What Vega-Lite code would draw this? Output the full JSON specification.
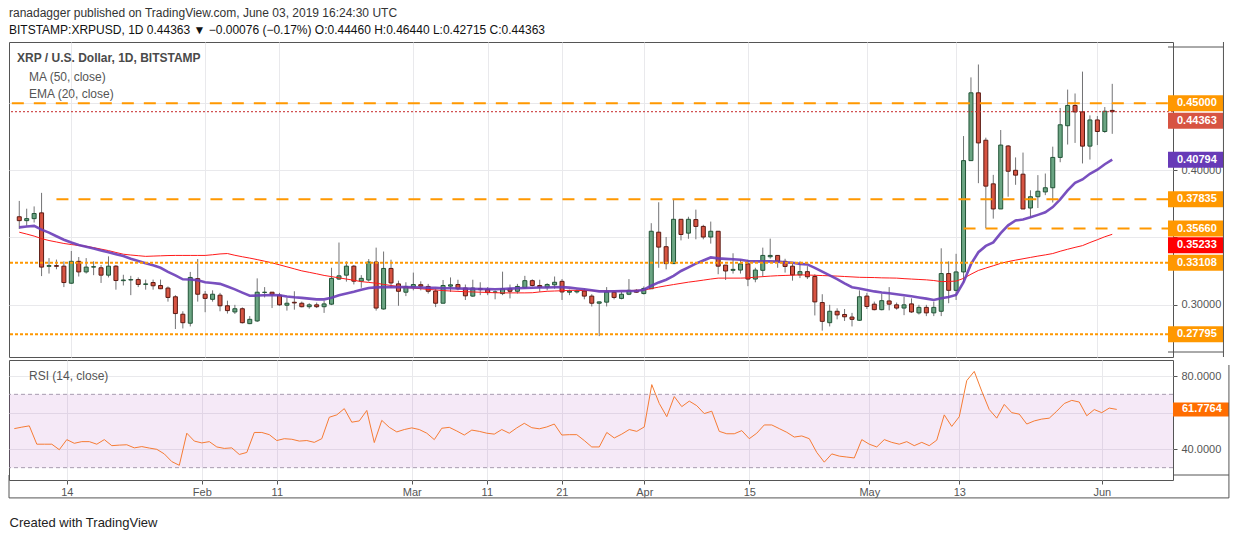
{
  "$schema": "https://vega.github.io/schema/vega-lite/v6.json",
  "background": "white",
  "padding": {"left": 7, "top": 7, "right": 7, "bottom": 4},
  "config": {
    "font": "Liberation Sans",
    "view": {"stroke": "#555555", "strokeWidth": 1},
    "axis": {"gridColor": "#e9e9ec", "domain": false, "labelColor": "#555555", "labelFontSize": 11, "tickColor": "#555555"}
  },
  "title": {
    "text": "ranadagger published on TradingView.com, June 03, 2019 16:24:30 UTC",
    "subtitle": "BITSTAMP:XRPUSD, 1D  0.44363 \u25bc \u22120.00076 (\u22120.17%)  O:0.44460  H:0.46440  L:0.42715  C:0.44363",
    "anchor": "start",
    "frame": "group",
    "fontSize": 12,
    "fontWeight": "normal",
    "color": "#333333",
    "subtitleFontSize": 12,
    "subtitleColor": "#111111",
    "subtitlePadding": 5,
    "offset": 4
  },
  "resolve": {"scale": {"color": "independent"}},
  "spacing": 1,
  "datasets": {
    "candles": [
      {"date": "2019-01-07", "open": 0.3654, "high": 0.3772, "low": 0.3563, "close": 0.3625, "ma50": 0.3539, "ema20": 0.3575, "rsi": 51.3},
      {"date": "2019-01-08", "open": 0.3625, "high": 0.3714, "low": 0.3587, "close": 0.3640, "ma50": 0.3525, "ema20": 0.3581, "rsi": 52.1},
      {"date": "2019-01-09", "open": 0.3640, "high": 0.3731, "low": 0.3611, "close": 0.3678, "ma50": 0.3510, "ema20": 0.3586, "rsi": 52.8},
      {"date": "2019-01-10", "open": 0.3683, "high": 0.3832, "low": 0.3212, "close": 0.3279, "ma50": 0.3491, "ema20": 0.3558, "rsi": 42.8},
      {"date": "2019-01-11", "open": 0.3285, "high": 0.3346, "low": 0.3231, "close": 0.3290, "ma50": 0.3477, "ema20": 0.3536, "rsi": 42.8},
      {"date": "2019-01-12", "open": 0.3290, "high": 0.3335, "low": 0.3263, "close": 0.3285, "ma50": 0.3466, "ema20": 0.3509, "rsi": 42.8},
      {"date": "2019-01-13", "open": 0.3286, "high": 0.3322, "low": 0.3130, "close": 0.3164, "ma50": 0.3455, "ema20": 0.3483, "rsi": 39.8},
      {"date": "2019-01-14", "open": 0.3159, "high": 0.3399, "low": 0.3154, "close": 0.3322, "ma50": 0.3447, "ema20": 0.3462, "rsi": 45.3},
      {"date": "2019-01-15", "open": 0.3322, "high": 0.3354, "low": 0.3209, "close": 0.3243, "ma50": 0.3440, "ema20": 0.3443, "rsi": 43.3},
      {"date": "2019-01-16", "open": 0.3243, "high": 0.3346, "low": 0.3231, "close": 0.3279, "ma50": 0.3434, "ema20": 0.3431, "rsi": 44.2},
      {"date": "2019-01-17", "open": 0.3279, "high": 0.3322, "low": 0.3219, "close": 0.3282, "ma50": 0.3424, "ema20": 0.3417, "rsi": 44.2},
      {"date": "2019-01-18", "open": 0.3274, "high": 0.3294, "low": 0.3161, "close": 0.3219, "ma50": 0.3413, "ema20": 0.3403, "rsi": 42.8},
      {"date": "2019-01-19", "open": 0.3219, "high": 0.3359, "low": 0.3202, "close": 0.3286, "ma50": 0.3402, "ema20": 0.3390, "rsi": 45.3},
      {"date": "2019-01-20", "open": 0.3286, "high": 0.3294, "low": 0.3111, "close": 0.3179, "ma50": 0.3388, "ema20": 0.3375, "rsi": 42.0},
      {"date": "2019-01-21", "open": 0.3178, "high": 0.3222, "low": 0.3142, "close": 0.3183, "ma50": 0.3375, "ema20": 0.3361, "rsi": 42.3},
      {"date": "2019-01-22", "open": 0.3183, "high": 0.3214, "low": 0.3070, "close": 0.3186, "ma50": 0.3369, "ema20": 0.3342, "rsi": 42.5},
      {"date": "2019-01-23", "open": 0.3186, "high": 0.3202, "low": 0.3130, "close": 0.3150, "ma50": 0.3364, "ema20": 0.3325, "rsi": 40.8},
      {"date": "2019-01-24", "open": 0.3150, "high": 0.3186, "low": 0.3111, "close": 0.3154, "ma50": 0.3359, "ema20": 0.3308, "rsi": 41.5},
      {"date": "2019-01-25", "open": 0.3164, "high": 0.3186, "low": 0.3111, "close": 0.3140, "ma50": 0.3361, "ema20": 0.3292, "rsi": 40.7},
      {"date": "2019-01-26", "open": 0.3142, "high": 0.3186, "low": 0.3115, "close": 0.3118, "ma50": 0.3363, "ema20": 0.3274, "rsi": 40.0},
      {"date": "2019-01-27", "open": 0.3123, "high": 0.3135, "low": 0.3022, "close": 0.3053, "ma50": 0.3365, "ema20": 0.3244, "rsi": 37.5},
      {"date": "2019-01-28", "open": 0.3058, "high": 0.3070, "low": 0.2818, "close": 0.2933, "ma50": 0.3366, "ema20": 0.3217, "rsi": 33.3},
      {"date": "2019-01-29", "open": 0.2928, "high": 0.2950, "low": 0.2822, "close": 0.2865, "ma50": 0.3366, "ema20": 0.3188, "rsi": 31.3},
      {"date": "2019-01-30", "open": 0.2861, "high": 0.3243, "low": 0.2837, "close": 0.3202, "ma50": 0.3366, "ema20": 0.3187, "rsi": 48.8},
      {"date": "2019-01-31", "open": 0.3193, "high": 0.3339, "low": 0.3022, "close": 0.3077, "ma50": 0.3366, "ema20": 0.3181, "rsi": 44.5},
      {"date": "2019-02-01", "open": 0.3077, "high": 0.3101, "low": 0.2943, "close": 0.3046, "ma50": 0.3366, "ema20": 0.3166, "rsi": 43.5},
      {"date": "2019-02-02", "open": 0.3039, "high": 0.3106, "low": 0.3022, "close": 0.3077, "ma50": 0.3371, "ema20": 0.3160, "rsi": 44.2},
      {"date": "2019-02-03", "open": 0.3070, "high": 0.3087, "low": 0.2950, "close": 0.2991, "ma50": 0.3377, "ema20": 0.3154, "rsi": 41.3},
      {"date": "2019-02-04", "open": 0.2991, "high": 0.3029, "low": 0.2933, "close": 0.2955, "ma50": 0.3380, "ema20": 0.3134, "rsi": 40.5},
      {"date": "2019-02-05", "open": 0.2945, "high": 0.2998, "low": 0.2930, "close": 0.2969, "ma50": 0.3367, "ema20": 0.3113, "rsi": 40.8},
      {"date": "2019-02-06", "open": 0.2969, "high": 0.2979, "low": 0.2859, "close": 0.2865, "ma50": 0.3356, "ema20": 0.3089, "rsi": 37.2},
      {"date": "2019-02-07", "open": 0.2858, "high": 0.2914, "low": 0.2854, "close": 0.2890, "ma50": 0.3346, "ema20": 0.3066, "rsi": 38.3},
      {"date": "2019-02-08", "open": 0.2878, "high": 0.3195, "low": 0.2870, "close": 0.3092, "ma50": 0.3335, "ema20": 0.3067, "rsi": 49.2},
      {"date": "2019-02-09", "open": 0.3090, "high": 0.3130, "low": 0.3053, "close": 0.3092, "ma50": 0.3323, "ema20": 0.3069, "rsi": 49.2},
      {"date": "2019-02-10", "open": 0.3092, "high": 0.3094, "low": 0.2974, "close": 0.3077, "ma50": 0.3311, "ema20": 0.3070, "rsi": 48.0},
      {"date": "2019-02-11", "open": 0.3070, "high": 0.3087, "low": 0.2991, "close": 0.2998, "ma50": 0.3296, "ema20": 0.3069, "rsi": 44.8},
      {"date": "2019-02-12", "open": 0.2995, "high": 0.3051, "low": 0.2955, "close": 0.3010, "ma50": 0.3281, "ema20": 0.3060, "rsi": 45.8},
      {"date": "2019-02-13", "open": 0.3017, "high": 0.3099, "low": 0.2962, "close": 0.3012, "ma50": 0.3266, "ema20": 0.3054, "rsi": 45.5},
      {"date": "2019-02-14", "open": 0.3010, "high": 0.3022, "low": 0.2979, "close": 0.2984, "ma50": 0.3251, "ema20": 0.3050, "rsi": 44.5},
      {"date": "2019-02-15", "open": 0.2984, "high": 0.3010, "low": 0.2969, "close": 0.2998, "ma50": 0.3240, "ema20": 0.3044, "rsi": 44.8},
      {"date": "2019-02-16", "open": 0.2998, "high": 0.3015, "low": 0.2974, "close": 0.2984, "ma50": 0.3229, "ema20": 0.3039, "rsi": 43.8},
      {"date": "2019-02-17", "open": 0.2984, "high": 0.3029, "low": 0.2938, "close": 0.3005, "ma50": 0.3217, "ema20": 0.3039, "rsi": 45.8},
      {"date": "2019-02-18", "open": 0.3003, "high": 0.3274, "low": 0.2996, "close": 0.3195, "ma50": 0.3208, "ema20": 0.3051, "rsi": 57.5},
      {"date": "2019-02-19", "open": 0.3190, "high": 0.3462, "low": 0.3183, "close": 0.3214, "ma50": 0.3199, "ema20": 0.3070, "rsi": 58.8},
      {"date": "2019-02-20", "open": 0.3219, "high": 0.3322, "low": 0.3171, "close": 0.3286, "ma50": 0.3190, "ema20": 0.3083, "rsi": 62.2},
      {"date": "2019-02-21", "open": 0.3286, "high": 0.3294, "low": 0.3150, "close": 0.3174, "ma50": 0.3181, "ema20": 0.3095, "rsi": 54.8},
      {"date": "2019-02-22", "open": 0.3174, "high": 0.3219, "low": 0.3125, "close": 0.3195, "ma50": 0.3171, "ema20": 0.3110, "rsi": 55.5},
      {"date": "2019-02-23", "open": 0.3183, "high": 0.3339, "low": 0.3171, "close": 0.3317, "ma50": 0.3165, "ema20": 0.3124, "rsi": 61.2},
      {"date": "2019-02-24", "open": 0.3317, "high": 0.3424, "low": 0.2955, "close": 0.2974, "ma50": 0.3159, "ema20": 0.3128, "rsi": 43.7},
      {"date": "2019-02-25", "open": 0.2967, "high": 0.3395, "low": 0.2962, "close": 0.3269, "ma50": 0.3150, "ema20": 0.3130, "rsi": 55.8},
      {"date": "2019-02-26", "open": 0.3269, "high": 0.3334, "low": 0.3123, "close": 0.3161, "ma50": 0.3142, "ema20": 0.3130, "rsi": 52.0},
      {"date": "2019-02-27", "open": 0.3154, "high": 0.3178, "low": 0.2991, "close": 0.3099, "ma50": 0.3134, "ema20": 0.3130, "rsi": 49.5},
      {"date": "2019-02-28", "open": 0.3092, "high": 0.3166, "low": 0.3063, "close": 0.3135, "ma50": 0.3127, "ema20": 0.3130, "rsi": 50.8},
      {"date": "2019-03-01", "open": 0.3132, "high": 0.3238, "low": 0.3106, "close": 0.3149, "ma50": 0.3123, "ema20": 0.3128, "rsi": 51.7},
      {"date": "2019-03-02", "open": 0.3148, "high": 0.3173, "low": 0.3106, "close": 0.3137, "ma50": 0.3118, "ema20": 0.3127, "rsi": 50.8},
      {"date": "2019-03-03", "open": 0.3135, "high": 0.3154, "low": 0.3082, "close": 0.3099, "ma50": 0.3113, "ema20": 0.3125, "rsi": 48.8},
      {"date": "2019-03-04", "open": 0.3101, "high": 0.3118, "low": 0.2981, "close": 0.3010, "ma50": 0.3109, "ema20": 0.3124, "rsi": 45.3},
      {"date": "2019-03-05", "open": 0.3010, "high": 0.3183, "low": 0.3010, "close": 0.3142, "ma50": 0.3104, "ema20": 0.3122, "rsi": 51.5},
      {"date": "2019-03-06", "open": 0.3137, "high": 0.3202, "low": 0.3094, "close": 0.3147, "ma50": 0.3101, "ema20": 0.3122, "rsi": 52.0},
      {"date": "2019-03-07", "open": 0.3149, "high": 0.3185, "low": 0.3106, "close": 0.3118, "ma50": 0.3098, "ema20": 0.3120, "rsi": 50.0},
      {"date": "2019-03-08", "open": 0.3123, "high": 0.3149, "low": 0.3034, "close": 0.3065, "ma50": 0.3096, "ema20": 0.3119, "rsi": 47.8},
      {"date": "2019-03-09", "open": 0.3063, "high": 0.3185, "low": 0.3058, "close": 0.3123, "ma50": 0.3094, "ema20": 0.3117, "rsi": 50.5},
      {"date": "2019-03-10", "open": 0.3120, "high": 0.3166, "low": 0.3070, "close": 0.3111, "ma50": 0.3092, "ema20": 0.3116, "rsi": 49.8},
      {"date": "2019-03-11", "open": 0.3113, "high": 0.3130, "low": 0.3070, "close": 0.3089, "ma50": 0.3090, "ema20": 0.3115, "rsi": 48.8},
      {"date": "2019-03-12", "open": 0.3092, "high": 0.3106, "low": 0.3039, "close": 0.3094, "ma50": 0.3088, "ema20": 0.3114, "rsi": 48.3},
      {"date": "2019-03-13", "open": 0.3082, "high": 0.3245, "low": 0.3070, "close": 0.3118, "ma50": 0.3087, "ema20": 0.3116, "rsi": 50.8},
      {"date": "2019-03-14", "open": 0.3118, "high": 0.3149, "low": 0.3046, "close": 0.3099, "ma50": 0.3087, "ema20": 0.3119, "rsi": 48.8},
      {"date": "2019-03-15", "open": 0.3099, "high": 0.3154, "low": 0.3082, "close": 0.3135, "ma50": 0.3087, "ema20": 0.3121, "rsi": 51.7},
      {"date": "2019-03-16", "open": 0.3125, "high": 0.3214, "low": 0.3118, "close": 0.3178, "ma50": 0.3087, "ema20": 0.3123, "rsi": 54.2},
      {"date": "2019-03-17", "open": 0.3178, "high": 0.3188, "low": 0.3135, "close": 0.3142, "ma50": 0.3088, "ema20": 0.3125, "rsi": 51.8},
      {"date": "2019-03-18", "open": 0.3142, "high": 0.3185, "low": 0.3094, "close": 0.3130, "ma50": 0.3094, "ema20": 0.3127, "rsi": 51.2},
      {"date": "2019-03-19", "open": 0.3130, "high": 0.3159, "low": 0.3106, "close": 0.3149, "ma50": 0.3099, "ema20": 0.3127, "rsi": 52.2},
      {"date": "2019-03-20", "open": 0.3147, "high": 0.3209, "low": 0.3118, "close": 0.3166, "ma50": 0.3101, "ema20": 0.3129, "rsi": 53.8},
      {"date": "2019-03-21", "open": 0.3173, "high": 0.3190, "low": 0.3034, "close": 0.3094, "ma50": 0.3103, "ema20": 0.3130, "rsi": 47.8},
      {"date": "2019-03-22", "open": 0.3092, "high": 0.3111, "low": 0.3070, "close": 0.3101, "ma50": 0.3106, "ema20": 0.3126, "rsi": 48.0},
      {"date": "2019-03-23", "open": 0.3094, "high": 0.3113, "low": 0.3082, "close": 0.3101, "ma50": 0.3106, "ema20": 0.3120, "rsi": 48.0},
      {"date": "2019-03-24", "open": 0.3101, "high": 0.3118, "low": 0.3039, "close": 0.3063, "ma50": 0.3104, "ema20": 0.3114, "rsi": 44.8},
      {"date": "2019-03-25", "open": 0.3063, "high": 0.3077, "low": 0.2986, "close": 0.3010, "ma50": 0.3103, "ema20": 0.3106, "rsi": 41.3},
      {"date": "2019-03-26", "open": 0.3010, "high": 0.3022, "low": 0.2765, "close": 0.3020, "ma50": 0.3102, "ema20": 0.3098, "rsi": 41.3},
      {"date": "2019-03-27", "open": 0.3018, "high": 0.3130, "low": 0.2986, "close": 0.3094, "ma50": 0.3101, "ema20": 0.3098, "rsi": 49.2},
      {"date": "2019-03-28", "open": 0.3092, "high": 0.3106, "low": 0.3039, "close": 0.3053, "ma50": 0.3101, "ema20": 0.3099, "rsi": 46.2},
      {"date": "2019-03-29", "open": 0.3046, "high": 0.3094, "low": 0.3039, "close": 0.3077, "ma50": 0.3102, "ema20": 0.3100, "rsi": 48.3},
      {"date": "2019-03-30", "open": 0.3077, "high": 0.3190, "low": 0.3070, "close": 0.3106, "ma50": 0.3104, "ema20": 0.3101, "rsi": 50.8},
      {"date": "2019-03-31", "open": 0.3106, "high": 0.3115, "low": 0.3087, "close": 0.3092, "ma50": 0.3106, "ema20": 0.3101, "rsi": 49.8},
      {"date": "2019-04-01", "open": 0.3082, "high": 0.3135, "low": 0.3075, "close": 0.3120, "ma50": 0.3107, "ema20": 0.3111, "rsi": 52.2},
      {"date": "2019-04-02", "open": 0.3118, "high": 0.3606, "low": 0.3118, "close": 0.3546, "ma50": 0.3119, "ema20": 0.3140, "rsi": 75.3},
      {"date": "2019-04-03", "open": 0.3539, "high": 0.3762, "low": 0.3274, "close": 0.3428, "ma50": 0.3130, "ema20": 0.3165, "rsi": 65.0},
      {"date": "2019-04-04", "open": 0.3431, "high": 0.3503, "low": 0.3262, "close": 0.3305, "ma50": 0.3140, "ema20": 0.3185, "rsi": 57.8},
      {"date": "2019-04-05", "open": 0.3305, "high": 0.3784, "low": 0.3305, "close": 0.3635, "ma50": 0.3149, "ema20": 0.3214, "rsi": 68.8},
      {"date": "2019-04-06", "open": 0.3635, "high": 0.3635, "low": 0.3478, "close": 0.3522, "ma50": 0.3158, "ema20": 0.3250, "rsi": 63.3},
      {"date": "2019-04-07", "open": 0.3532, "high": 0.3654, "low": 0.3490, "close": 0.3635, "ma50": 0.3167, "ema20": 0.3277, "rsi": 66.3},
      {"date": "2019-04-08", "open": 0.3633, "high": 0.3707, "low": 0.3486, "close": 0.3582, "ma50": 0.3174, "ema20": 0.3305, "rsi": 63.8},
      {"date": "2019-04-09", "open": 0.3582, "high": 0.3594, "low": 0.3486, "close": 0.3503, "ma50": 0.3182, "ema20": 0.3328, "rsi": 59.5},
      {"date": "2019-04-10", "open": 0.3503, "high": 0.3618, "low": 0.3454, "close": 0.3546, "ma50": 0.3190, "ema20": 0.3351, "rsi": 60.8},
      {"date": "2019-04-11", "open": 0.3546, "high": 0.3546, "low": 0.3226, "close": 0.3286, "ma50": 0.3197, "ema20": 0.3344, "rsi": 49.8},
      {"date": "2019-04-12", "open": 0.3294, "high": 0.3294, "low": 0.3183, "close": 0.3250, "ma50": 0.3197, "ema20": 0.3340, "rsi": 48.5},
      {"date": "2019-04-13", "open": 0.3255, "high": 0.3382, "low": 0.3231, "close": 0.3262, "ma50": 0.3197, "ema20": 0.3337, "rsi": 48.5},
      {"date": "2019-04-14", "open": 0.3257, "high": 0.3334, "low": 0.3231, "close": 0.3303, "ma50": 0.3197, "ema20": 0.3334, "rsi": 50.2},
      {"date": "2019-04-15", "open": 0.3303, "high": 0.3334, "low": 0.3137, "close": 0.3190, "ma50": 0.3199, "ema20": 0.3325, "rsi": 45.8},
      {"date": "2019-04-16", "open": 0.3190, "high": 0.3274, "low": 0.3166, "close": 0.3257, "ma50": 0.3204, "ema20": 0.3322, "rsi": 48.8},
      {"date": "2019-04-17", "open": 0.3255, "high": 0.3424, "low": 0.3207, "close": 0.3366, "ma50": 0.3208, "ema20": 0.3322, "rsi": 53.3},
      {"date": "2019-04-18", "open": 0.3356, "high": 0.3491, "low": 0.3342, "close": 0.3366, "ma50": 0.3212, "ema20": 0.3322, "rsi": 53.3},
      {"date": "2019-04-19", "open": 0.3366, "high": 0.3366, "low": 0.3274, "close": 0.3322, "ma50": 0.3215, "ema20": 0.3320, "rsi": 51.3},
      {"date": "2019-04-20", "open": 0.3322, "high": 0.3341, "low": 0.3238, "close": 0.3284, "ma50": 0.3217, "ema20": 0.3314, "rsi": 49.3},
      {"date": "2019-04-21", "open": 0.3286, "high": 0.3310, "low": 0.3178, "close": 0.3221, "ma50": 0.3219, "ema20": 0.3311, "rsi": 46.7},
      {"date": "2019-04-22", "open": 0.3221, "high": 0.3322, "low": 0.3197, "close": 0.3245, "ma50": 0.3221, "ema20": 0.3303, "rsi": 47.3},
      {"date": "2019-04-23", "open": 0.3245, "high": 0.3286, "low": 0.3190, "close": 0.3207, "ma50": 0.3220, "ema20": 0.3299, "rsi": 45.8},
      {"date": "2019-04-24", "open": 0.3209, "high": 0.3226, "low": 0.2919, "close": 0.3020, "ma50": 0.3218, "ema20": 0.3273, "rsi": 38.3},
      {"date": "2019-04-25", "open": 0.3015, "high": 0.3077, "low": 0.2806, "close": 0.2875, "ma50": 0.3216, "ema20": 0.3245, "rsi": 33.0},
      {"date": "2019-04-26", "open": 0.2865, "high": 0.2998, "low": 0.2837, "close": 0.2950, "ma50": 0.3214, "ema20": 0.3218, "rsi": 37.5},
      {"date": "2019-04-27", "open": 0.2950, "high": 0.2972, "low": 0.2890, "close": 0.2923, "ma50": 0.3212, "ema20": 0.3189, "rsi": 36.3},
      {"date": "2019-04-28", "open": 0.2926, "high": 0.2967, "low": 0.2878, "close": 0.2909, "ma50": 0.3209, "ema20": 0.3158, "rsi": 35.8},
      {"date": "2019-04-29", "open": 0.2907, "high": 0.2938, "low": 0.2837, "close": 0.2890, "ma50": 0.3206, "ema20": 0.3129, "rsi": 35.3},
      {"date": "2019-04-30", "open": 0.2883, "high": 0.3106, "low": 0.2878, "close": 0.3058, "ma50": 0.3203, "ema20": 0.3119, "rsi": 45.3},
      {"date": "2019-05-01", "open": 0.3063, "high": 0.3087, "low": 0.2967, "close": 0.2986, "ma50": 0.3202, "ema20": 0.3108, "rsi": 42.8},
      {"date": "2019-05-02", "open": 0.3003, "high": 0.3022, "low": 0.2957, "close": 0.2962, "ma50": 0.3201, "ema20": 0.3098, "rsi": 41.3},
      {"date": "2019-05-03", "open": 0.2962, "high": 0.3082, "low": 0.2957, "close": 0.3029, "ma50": 0.3199, "ema20": 0.3090, "rsi": 45.3},
      {"date": "2019-05-04", "open": 0.3027, "high": 0.3130, "low": 0.2957, "close": 0.3003, "ma50": 0.3198, "ema20": 0.3084, "rsi": 43.8},
      {"date": "2019-05-05", "open": 0.2998, "high": 0.3015, "low": 0.2962, "close": 0.2974, "ma50": 0.3197, "ema20": 0.3077, "rsi": 42.8},
      {"date": "2019-05-06", "open": 0.2974, "high": 0.3058, "low": 0.2921, "close": 0.2998, "ma50": 0.3193, "ema20": 0.3070, "rsi": 44.2},
      {"date": "2019-05-07", "open": 0.3005, "high": 0.3046, "low": 0.2938, "close": 0.2945, "ma50": 0.3190, "ema20": 0.3062, "rsi": 42.0},
      {"date": "2019-05-08", "open": 0.2938, "high": 0.2998, "low": 0.2926, "close": 0.2979, "ma50": 0.3187, "ema20": 0.3053, "rsi": 43.8},
      {"date": "2019-05-09", "open": 0.2979, "high": 0.2998, "low": 0.2914, "close": 0.2938, "ma50": 0.3184, "ema20": 0.3044, "rsi": 42.0},
      {"date": "2019-05-10", "open": 0.2938, "high": 0.3022, "low": 0.2914, "close": 0.2979, "ma50": 0.3179, "ema20": 0.3034, "rsi": 45.0},
      {"date": "2019-05-11", "open": 0.2950, "high": 0.3419, "low": 0.2914, "close": 0.3231, "ma50": 0.3171, "ema20": 0.3047, "rsi": 58.8},
      {"date": "2019-05-12", "open": 0.3231, "high": 0.3322, "low": 0.3010, "close": 0.3106, "ma50": 0.3172, "ema20": 0.3057, "rsi": 52.5},
      {"date": "2019-05-13", "open": 0.3106, "high": 0.3378, "low": 0.3034, "close": 0.3243, "ma50": 0.3175, "ema20": 0.3072, "rsi": 57.8},
      {"date": "2019-05-14", "open": 0.3243, "high": 0.4255, "low": 0.3166, "close": 0.4072, "ma50": 0.3195, "ema20": 0.3167, "rsi": 77.5},
      {"date": "2019-05-15", "open": 0.4072, "high": 0.4692, "low": 0.4072, "close": 0.4577, "ma50": 0.3226, "ema20": 0.3301, "rsi": 82.5},
      {"date": "2019-05-16", "open": 0.4577, "high": 0.4788, "low": 0.3904, "close": 0.4204, "ma50": 0.3254, "ema20": 0.3390, "rsi": 71.7},
      {"date": "2019-05-17", "open": 0.4224, "high": 0.4243, "low": 0.3570, "close": 0.3882, "ma50": 0.3272, "ema20": 0.3437, "rsi": 61.7},
      {"date": "2019-05-18", "open": 0.3899, "high": 0.3966, "low": 0.3640, "close": 0.3712, "ma50": 0.3289, "ema20": 0.3463, "rsi": 57.0},
      {"date": "2019-05-19", "open": 0.3712, "high": 0.4300, "low": 0.3712, "close": 0.4188, "ma50": 0.3307, "ema20": 0.3532, "rsi": 64.5},
      {"date": "2019-05-20", "open": 0.4181, "high": 0.4188, "low": 0.3803, "close": 0.3993, "ma50": 0.3320, "ema20": 0.3590, "rsi": 60.0},
      {"date": "2019-05-21", "open": 0.4000, "high": 0.4096, "low": 0.3892, "close": 0.3964, "ma50": 0.3331, "ema20": 0.3626, "rsi": 59.2},
      {"date": "2019-05-22", "open": 0.3971, "high": 0.4132, "low": 0.3712, "close": 0.3712, "ma50": 0.3341, "ema20": 0.3634, "rsi": 53.8},
      {"date": "2019-05-23", "open": 0.3719, "high": 0.3851, "low": 0.3647, "close": 0.3803, "ma50": 0.3351, "ema20": 0.3650, "rsi": 55.5},
      {"date": "2019-05-24", "open": 0.3803, "high": 0.3964, "low": 0.3719, "close": 0.3844, "ma50": 0.3361, "ema20": 0.3668, "rsi": 56.5},
      {"date": "2019-05-25", "open": 0.3839, "high": 0.3976, "low": 0.3815, "close": 0.3870, "ma50": 0.3370, "ema20": 0.3687, "rsi": 57.0},
      {"date": "2019-05-26", "open": 0.3870, "high": 0.4176, "low": 0.3760, "close": 0.4096, "ma50": 0.3380, "ema20": 0.3726, "rsi": 60.8},
      {"date": "2019-05-27", "open": 0.4096, "high": 0.4464, "low": 0.4060, "close": 0.4339, "ma50": 0.3397, "ema20": 0.3784, "rsi": 65.0},
      {"date": "2019-05-28", "open": 0.4332, "high": 0.4601, "low": 0.4192, "close": 0.4483, "ma50": 0.3412, "ema20": 0.3850, "rsi": 66.7},
      {"date": "2019-05-29", "open": 0.4483, "high": 0.4572, "low": 0.4204, "close": 0.4435, "ma50": 0.3426, "ema20": 0.3906, "rsi": 65.8},
      {"date": "2019-05-30", "open": 0.4435, "high": 0.4735, "low": 0.4051, "close": 0.4180, "ma50": 0.3439, "ema20": 0.3932, "rsi": 58.3},
      {"date": "2019-05-31", "open": 0.4180, "high": 0.4409, "low": 0.4080, "close": 0.4375, "ma50": 0.3462, "ema20": 0.3974, "rsi": 61.7},
      {"date": "2019-06-01", "open": 0.4375, "high": 0.4404, "low": 0.4188, "close": 0.4289, "ma50": 0.3483, "ema20": 0.4004, "rsi": 60.0},
      {"date": "2019-06-02", "open": 0.4289, "high": 0.4471, "low": 0.4279, "close": 0.4440, "ma50": 0.3505, "ema20": 0.4045, "rsi": 62.5},
      {"date": "2019-06-03", "open": 0.4446, "high": 0.4644, "low": 0.42715, "close": 0.44363, "ma50": 0.35233, "ema20": 0.40794, "rsi": 61.7764}
    ],
    "resistances": [
      {"price": 0.45, "start": "2019-01-06"},
      {"price": 0.37835, "start": "2019-01-12"},
      {"price": 0.3566, "start": "2019-05-14"}
    ],
    "supports": [
      {"price": 0.33108},
      {"price": 0.27795}
    ],
    "tags": [
      {"price": 0.45, "kind": "level"},
      {"price": 0.44363, "kind": "last"},
      {"price": 0.40794, "kind": "ema"},
      {"price": 0.37835, "kind": "level"},
      {"price": 0.3566, "kind": "level"},
      {"price": 0.35233, "kind": "ma"},
      {"price": 0.33108, "kind": "level"},
      {"price": 0.27795, "kind": "level"}
    ],
    "rsiBand": [
      {"level": 70},
      {"level": 30}
    ],
    "rsiTag": [
      {"value": 61.7764, "kind": "rsi"}
    ]
  },
  "vconcat": [
    {
      "width": 1164,
      "height": 315,
      "layer": [
        {
          "data": {"name": "candles"},
          "mark": {"type": "rule", "color": "#737375", "strokeWidth": 1},
          "encoding": {
            "x": {
              "field": "date",
              "type": "temporal",
              "scale": {"type": "utc", "domain": [{"year": 2019, "month": 1, "date": 6, "hours": 7, "utc": true}, {"year": 2019, "month": 6, "date": 10, "hours": 12, "utc": true}]},
              "axis": {
                "values": [
                  {"year": 2019, "month": 1, "date": 14, "utc": true},
                  {"year": 2019, "month": 2, "date": 1, "utc": true},
                  {"year": 2019, "month": 2, "date": 11, "utc": true},
                  {"year": 2019, "month": 3, "date": 1, "utc": true},
                  {"year": 2019, "month": 3, "date": 11, "utc": true},
                  {"year": 2019, "month": 3, "date": 21, "utc": true},
                  {"year": 2019, "month": 4, "date": 1, "utc": true},
                  {"year": 2019, "month": 4, "date": 15, "utc": true},
                  {"year": 2019, "month": 5, "date": 1, "utc": true},
                  {"year": 2019, "month": 5, "date": 13, "utc": true},
                  {"year": 2019, "month": 6, "date": 1, "utc": true}
                ],
                "labels": false,
                "ticks": false,
                "grid": true,
                "title": null
              }
            },
            "y": {
              "field": "low",
              "type": "quantitative",
              "scale": {"domain": [0.26467, 0.49183], "nice": false, "zero": false},
              "axis": {
                "orient": "right",
                "values": [0.3, 0.35, 0.4, 0.45],
                "format": ".5f",
                "labelExpr": "abs(datum.value - 0.35) < 0.001 || abs(datum.value - 0.45) < 0.001 ? '' : datum.label",
                "tickSize": 4,
                "labelPadding": 4,
                "grid": true,
                "title": null
              }
            },
            "y2": {"field": "high"}
          }
        },
        {
          "data": {"name": "candles"},
          "mark": {"type": "bar", "size": 4, "strokeWidth": 1},
          "encoding": {
            "x": {"field": "date", "type": "temporal"},
            "y": {"field": "open", "type": "quantitative"},
            "y2": {"field": "close"},
            "fill": {"condition": {"test": "datum.close >= datum.open", "value": "#6ba583"}, "value": "#d75442"},
            "stroke": {"condition": {"test": "datum.close >= datum.open", "value": "#225437"}, "value": "#5b1a13"}
          }
        },
        {
          "data": {"name": "candles"},
          "mark": {"type": "line", "strokeWidth": 1},
          "encoding": {
            "x": {"field": "date", "type": "temporal"},
            "y": {"field": "ma50", "type": "quantitative"},
            "color": {
              "datum": "MA (50, close)",
              "type": "nominal",
              "scale": {"domain": ["MA (50, close)", "EMA (20, close)"], "range": ["#ff1a1a", "#6a3db8"]},
              "legend": {
                "title": "XRP / U.S. Dollar, 1D, BITSTAMP",
                "orient": "none",
                "legendX": 8,
                "legendY": 11,
                "padding": 0,
                "titleFontSize": 12,
                "titleFontWeight": "bold",
                "titleColor": "#4a4a4a",
                "titlePadding": 6,
                "titleLimit": 400,
                "labelFontSize": 12,
                "labelColor": "#555555",
                "symbolSize": 0,
                "symbolOpacity": 0,
                "symbolStrokeWidth": 0,
                "labelOffset": 0,
                "rowPadding": 5
              }
            }
          }
        },
        {
          "data": {"name": "candles"},
          "mark": {"type": "line", "strokeWidth": 2.6, "opacity": 0.9},
          "encoding": {
            "x": {"field": "date", "type": "temporal"},
            "y": {"field": "ema20", "type": "quantitative"},
            "color": {"datum": "EMA (20, close)", "type": "nominal"}
          }
        },
        {
          "data": {"name": "resistances"},
          "mark": {"type": "rule", "color": "#ff9800", "strokeWidth": 2, "strokeDash": [12, 10], "clip": true},
          "encoding": {
            "x": {"field": "start", "type": "temporal"},
            "x2": {"datum": {"year": 2019, "month": 6, "date": 10, "hours": 12, "utc": true}},
            "y": {"field": "price", "type": "quantitative"}
          }
        },
        {
          "data": {"name": "supports"},
          "mark": {"type": "rule", "color": "#ff9800", "strokeWidth": 2, "strokeDash": [3, 2]},
          "encoding": {
            "y": {"field": "price", "type": "quantitative"}
          }
        },
        {
          "data": {"name": "tags"},
          "transform": [{"filter": "datum.kind == 'last'"}],
          "mark": {"type": "rule", "color": "#c62828", "strokeWidth": 1, "strokeDash": [2, 2]},
          "encoding": {
            "y": {"field": "price", "type": "quantitative"}
          }
        },
        {
          "data": {"name": "tags"},
          "transform": [{"filter": "datum.kind != 'last' && datum.kind != 'ma'"}],
          "mark": {"type": "bar", "orient": "horizontal", "size": 16},
          "encoding": {
            "x": {"datum": {"year": 2019, "month": 6, "date": 10, "hours": 12, "utc": true}, "type": "temporal"},
            "x2": {"datum": {"year": 2019, "month": 6, "date": 17, "hours": 23, "utc": true}},
            "y": {"field": "price", "type": "quantitative"},
            "fill": {
              "field": "kind",
              "type": "nominal",
              "scale": {"domain": ["level", "last", "ema", "ma", "rsi"], "range": ["#ff9800", "#d75442", "#673ab7", "#ff0000", "#ff6d00"]},
              "legend": null
            }
          }
        },
        {
          "data": {"name": "tags"},
          "transform": [{"filter": "datum.kind != 'last' && datum.kind != 'ma'"}],
          "mark": {"type": "text", "align": "left", "baseline": "middle", "dx": 9, "fontSize": 11, "fontWeight": "bold", "color": "white"},
          "encoding": {
            "x": {"datum": {"year": 2019, "month": 6, "date": 10, "hours": 12, "utc": true}, "type": "temporal"},
            "y": {"field": "price", "type": "quantitative"},
            "text": {"field": "price", "type": "quantitative", "format": ".5f"}
          }
        },
        {
          "data": {"name": "tags"},
          "transform": [{"filter": "datum.kind == 'last'"}],
          "mark": {"type": "bar", "orient": "horizontal", "size": 16, "yOffset": 9},
          "encoding": {
            "x": {"datum": {"year": 2019, "month": 6, "date": 10, "hours": 12, "utc": true}, "type": "temporal"},
            "x2": {"datum": {"year": 2019, "month": 6, "date": 17, "hours": 23, "utc": true}},
            "y": {"field": "price", "type": "quantitative"},
            "fill": {"field": "kind", "type": "nominal", "legend": null}
          }
        },
        {
          "data": {"name": "tags"},
          "transform": [{"filter": "datum.kind == 'last'"}],
          "mark": {"type": "text", "align": "left", "baseline": "middle", "dx": 9, "yOffset": 9, "fontSize": 11, "fontWeight": "bold", "color": "white"},
          "encoding": {
            "x": {"datum": {"year": 2019, "month": 6, "date": 10, "hours": 12, "utc": true}, "type": "temporal"},
            "y": {"field": "price", "type": "quantitative"},
            "text": {"field": "price", "type": "quantitative", "format": ".5f"}
          }
        },
        {
          "data": {"name": "tags"},
          "transform": [{"filter": "datum.kind == 'ma'"}],
          "mark": {"type": "bar", "orient": "horizontal", "size": 16, "yOffset": 11},
          "encoding": {
            "x": {"datum": {"year": 2019, "month": 6, "date": 10, "hours": 12, "utc": true}, "type": "temporal"},
            "x2": {"datum": {"year": 2019, "month": 6, "date": 17, "hours": 23, "utc": true}},
            "y": {"field": "price", "type": "quantitative"},
            "fill": {"field": "kind", "type": "nominal", "legend": null}
          }
        },
        {
          "data": {"name": "tags"},
          "transform": [{"filter": "datum.kind == 'ma'"}],
          "mark": {"type": "text", "align": "left", "baseline": "middle", "dx": 9, "yOffset": 11, "fontSize": 11, "fontWeight": "bold", "color": "white"},
          "encoding": {
            "x": {"datum": {"year": 2019, "month": 6, "date": 10, "hours": 12, "utc": true}, "type": "temporal"},
            "y": {"field": "price", "type": "quantitative"},
            "text": {"field": "price", "type": "quantitative", "format": ".5f"}
          }
        },
        {
          "data": {"values": [{}]},
          "mark": {"type": "rule", "color": "#555555", "strokeWidth": 1},
          "encoding": {
            "x": {"datum": {"year": 2019, "month": 6, "date": 17, "hours": 23, "utc": true}, "type": "temporal"}
          }
        },
        {
          "data": {"values": [{}]},
          "mark": {"type": "rule", "color": "#555555", "strokeWidth": 1},
          "encoding": {
            "x": {"datum": {"year": 2019, "month": 6, "date": 10, "hours": 12, "utc": true}, "type": "temporal"},
            "x2": {"datum": {"year": 2019, "month": 6, "date": 17, "hours": 23, "utc": true}},
            "y": {"datum": 0.49183, "type": "quantitative"}
          }
        },
        {
          "data": {"values": [{}]},
          "mark": {"type": "rule", "color": "#555555", "strokeWidth": 1},
          "encoding": {
            "x": {"datum": {"year": 2019, "month": 6, "date": 10, "hours": 12, "utc": true}, "type": "temporal"},
            "x2": {"datum": {"year": 2019, "month": 6, "date": 17, "hours": 23, "utc": true}},
            "y": {"datum": 0.26467, "type": "quantitative"}
          }
        }
      ]
    },
    {
      "width": 1164,
      "height": 120,
      "layer": [
        {
          "data": {"values": [{}]},
          "mark": {"type": "rect", "color": "#9c27b0", "opacity": 0.1},
          "encoding": {
            "y": {
              "datum": 70,
              "type": "quantitative",
              "scale": {"domain": [26, 86], "nice": false, "zero": false},
              "axis": {
                "orient": "right",
                "values": [40, 60, 80],
                "format": ".4f",
                "labelExpr": "datum.value == 60 ? '' : datum.label",
                "tickSize": 4,
                "labelPadding": 4,
                "grid": true,
                "title": null
              }
            },
            "y2": {"datum": 30}
          }
        },
        {
          "data": {"name": "rsiBand"},
          "mark": {"type": "rule", "color": "#a89cb0", "strokeWidth": 1, "strokeDash": [4, 3]},
          "encoding": {
            "y": {"field": "level", "type": "quantitative"}
          }
        },
        {
          "data": {"name": "candles"},
          "mark": {"type": "line", "strokeWidth": 1},
          "encoding": {
            "x": {
              "field": "date",
              "type": "temporal",
              "scale": {"type": "utc", "domain": [{"year": 2019, "month": 1, "date": 6, "hours": 7, "utc": true}, {"year": 2019, "month": 6, "date": 10, "hours": 12, "utc": true}]},
              "axis": {
                "values": [
                  {"year": 2019, "month": 1, "date": 14, "utc": true},
                  {"year": 2019, "month": 2, "date": 1, "utc": true},
                  {"year": 2019, "month": 2, "date": 11, "utc": true},
                  {"year": 2019, "month": 3, "date": 1, "utc": true},
                  {"year": 2019, "month": 3, "date": 11, "utc": true},
                  {"year": 2019, "month": 3, "date": 21, "utc": true},
                  {"year": 2019, "month": 4, "date": 1, "utc": true},
                  {"year": 2019, "month": 4, "date": 15, "utc": true},
                  {"year": 2019, "month": 5, "date": 1, "utc": true},
                  {"year": 2019, "month": 5, "date": 13, "utc": true},
                  {"year": 2019, "month": 6, "date": 1, "utc": true}
                ],
                "labelExpr": "utcdate(datum.value) == 1 ? utcFormat(datum.value, '%b') : utcFormat(datum.value, '%d')",
                "labelFlush": false,
                "grid": true,
                "ticks": true,
                "tickSize": 4,
                "labelPadding": 2,
                "title": "Created with  TradingView",
                "titleAnchor": "start",
                "titleAlign": "left",
                "titleFontSize": 13,
                "titleFontWeight": "normal",
                "titleColor": "#222222",
                "titlePadding": 19
              }
            },
            "y": {"field": "rsi", "type": "quantitative"},
            "color": {
              "datum": "RSI (14, close)",
              "type": "nominal",
              "scale": {"range": ["#f57c35"]},
              "legend": {
                "title": null,
                "orient": "none",
                "legendX": 8,
                "legendY": 10,
                "padding": 0,
                "labelFontSize": 12,
                "labelColor": "#555555",
                "symbolSize": 0,
                "symbolOpacity": 0,
                "symbolStrokeWidth": 0,
                "labelOffset": 0
              }
            }
          }
        },
        {
          "data": {"name": "rsiTag"},
          "mark": {"type": "bar", "orient": "horizontal", "size": 14},
          "encoding": {
            "x": {"datum": {"year": 2019, "month": 6, "date": 10, "hours": 12, "utc": true}, "type": "temporal"},
            "x2": {"datum": {"year": 2019, "month": 6, "date": 17, "hours": 23, "utc": true}},
            "y": {"field": "value", "type": "quantitative"},
            "fill": {"field": "kind", "type": "nominal", "legend": null}
          }
        },
        {
          "data": {"name": "rsiTag"},
          "mark": {"type": "text", "align": "left", "baseline": "middle", "dx": 9, "fontSize": 11, "fontWeight": "bold", "color": "white"},
          "encoding": {
            "x": {"datum": {"year": 2019, "month": 6, "date": 10, "hours": 12, "utc": true}, "type": "temporal"},
            "y": {"field": "value", "type": "quantitative"},
            "text": {"field": "value", "type": "quantitative", "format": ".4f"}
          }
        },
        {
          "data": {"values": [{}]},
          "mark": {"type": "rule", "color": "#555555", "strokeWidth": 1},
          "encoding": {
            "x": {"datum": {"year": 2019, "month": 6, "date": 17, "hours": 23, "utc": true}, "type": "temporal"},
            "y": {"datum": 86, "type": "quantitative"},
            "y2": {"datum": 13.5}
          }
        },
        {
          "data": {"values": [{}]},
          "mark": {"type": "rule", "color": "#555555", "strokeWidth": 1},
          "encoding": {
            "x": {"datum": {"year": 2019, "month": 1, "date": 6, "hours": 7, "utc": true}, "type": "temporal"},
            "y": {"datum": 26, "type": "quantitative"},
            "y2": {"datum": 13.5}
          }
        },
        {
          "data": {"values": [{}]},
          "mark": {"type": "rule", "color": "#555555", "strokeWidth": 1},
          "encoding": {
            "x": {"datum": {"year": 2019, "month": 1, "date": 6, "hours": 7, "utc": true}, "type": "temporal"},
            "x2": {"datum": {"year": 2019, "month": 6, "date": 17, "hours": 23, "utc": true}},
            "y": {"datum": 13.5, "type": "quantitative"}
          }
        },
        {
          "data": {"values": [{}]},
          "mark": {"type": "rule", "color": "#555555", "strokeWidth": 1},
          "encoding": {
            "x": {"datum": {"year": 2019, "month": 6, "date": 10, "hours": 12, "utc": true}, "type": "temporal"},
            "x2": {"datum": {"year": 2019, "month": 6, "date": 17, "hours": 23, "utc": true}},
            "y": {"datum": 26, "type": "quantitative"}
          }
        }
      ]
    }
  ]
}
